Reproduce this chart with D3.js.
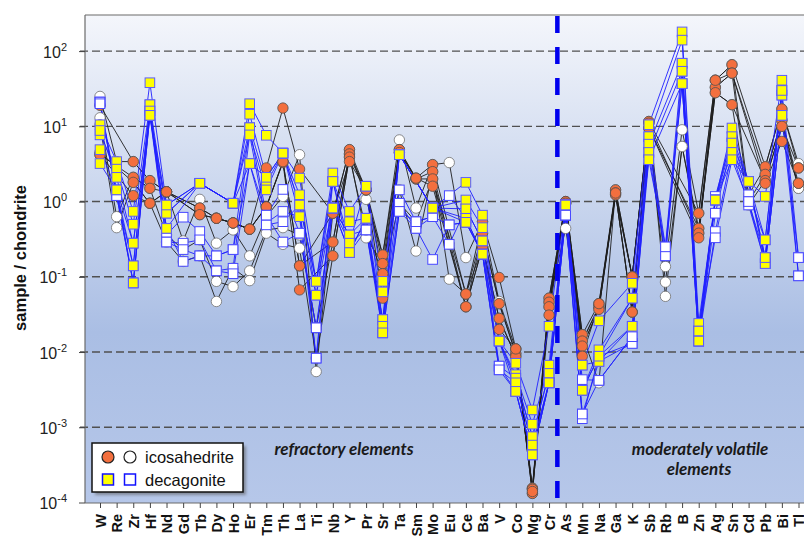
<!DOCTYPE html>
<html>
<head>
<meta charset="utf-8">
<script src="https://cdn.jsdelivr.net/npm/d3@7"></script>
<style>
  body { margin: 0; background: #fff; }
  svg { font-family: Arial, "Liberation Sans", sans-serif; display: block; }
</style>
</head>
<body>
<div id="chart"></div>
<script>
// element order along the x axis
const elements = ["W","Re","Zr","Hf","Nd","Gd","Tb","Dy","Ho","Er","Tm","Th","La","Ti","Nb","Y","Pr","Sr","Ta","Sm",
  "Mo","Eu","Ce","Ba","V","Co","Mg","Cr","As","Mn","Na","Ga","K","Sb","Rb","B","Zn","Ag","Sn","Cd","Pb","Bi","Tl"];

const yTicks = [1e-4, 1e-3, 1e-2, 1e-1, 1, 10, 100];

// icosahedrite, orange symbols (sample / chondrite)
const icoOrange1 = [19,null,3.4,1.9,1.35,null,0.82,0.6,0.52,0.43,2.8,17.5,2.7,null,0.7,4.9,1.43,0.195,4.9,2.05,
  3.1,null,0.059,0.54,0.098,0.011,0.000155,0.052,1.0,0.017,0.044,1.43,0.1,11.6,null,null,0.7,41,66,null,2.9,17,2.8];
const icoOrange2 = [4.2,null,2.1,1.5,1.35,null,0.67,0.6,0.52,0.43,0.85,3.4,0.14,null,0.29,4.3,1.43,0.15,4.5,2.0,
  2.5,null,0.04,0.38,0.044,0.0095,0.000132,0.046,0.95,0.014,0.04,1.3,0.034,9.5,null,null,0.44,33,51,null,2.3,12,1.75];
const icoOrange3 = [4.5,null,1.8,0.95,1.35,null,0.82,0.6,0.52,0.43,0.85,3.3,0.067,null,0.19,3.9,1.43,0.11,4.9,2.0,
  2.0,null,0.059,0.25,0.028,0.0087,0.00015,0.04,1.0,0.012,0.037,1.23,0.1,11,null,null,0.38,28,19.4,null,1.9,10,2.8];
const icoOrange4 = [4.2,null,1.2,0.95,1.35,null,0.67,0.6,0.52,0.43,0.85,3.4,0.14,null,0.7,3.4,1.43,0.052,4.5,2.05,
  1.6,null,0.04,0.25,0.02,0.011,0.00014,0.031,0.95,0.0088,0.044,1.3,0.034,9.5,null,null,0.33,41,51,null,1.75,6.3,1.75];

// icosahedrite, white symbols
const icoWhite1 = [25,3.4,3.4,1.9,1.35,0.3,1.07,0.28,0.42,0.19,0.63,1.17,4.2,0.0055,0.7,4.9,1.07,0.195,6.6,0.82,
  3.1,3.3,0.18,0.54,0.047,0.011,0.000155,0.052,1.0,0.017,0.0039,1.43,0.1,11.6,0.137,9,0.7,41,66,1.23,2.9,17,3.2];
const icoWhite2 = [13,0.63,2.1,1.5,0.36,0.23,0.31,0.087,0.074,0.12,0.42,0.45,0.36,0.021,0.29,4.3,0.33,0.15,1.43,0.22,
  2.5,0.093,0.059,0.38,0.044,0.0095,0.000132,0.046,0.44,0.014,0.04,1.3,0.034,9.5,0.085,5.4,0.44,33,51,1.0,2.3,12,1.5];
const icoWhite3 = [10.5,0.45,1.8,0.95,0.29,0.16,0.19,0.047,0.13,0.089,0.38,0.27,0.24,0.0083,0.19,3.9,0.42,0.11,0.95,0.54,
  2.0,0.27,0.04,0.25,0.028,0.0087,0.00015,0.04,0.95,0.012,0.037,1.23,0.1,11,0.055,5.4,0.38,28,19.4,0.9,1.9,10,1.5];

// decagonite, yellow symbols
const decYellow1 = [10.5,3.4,0.74,38,0.9,null,1.75,null,0.95,20,7.6,4.4,2.05,0.087,2.4,0.74,1.6,0.087,4.2,null,
  0.82,null,1.8,0.66,0.014,0.0071,0.0017,0.022,0.9,0.0067,0.026,null,0.082,10.5,null,180,0.024,1.05,9.5,1.85,1.17,41,null];
const decYellow2 = [7.7,2.7,0.5,19.4,0.7,null,1.75,null,0.95,14.5,2.1,4.4,1.23,0.057,1.85,0.54,0.6,0.063,4.2,null,
  0.82,null,1.05,0.45,0.014,0.005,0.0011,0.0067,0.9,0.0031,0.0107,null,0.052,7.3,null,140,0.019,1.05,7.3,1.85,0.31,30,null];
const decYellow3 = [8.8,2.1,0.28,16,0.44,null,1.75,null,0.95,9.6,1.75,4.4,0.9,0.087,0.82,0.36,0.6,0.027,4.2,null,
  0.82,null,0.8,0.3,0.014,0.0045,0.00075,0.0052,0.9,0.0031,0.0088,null,0.022,5.8,null,69,0.014,1.05,6,1.85,0.18,26,null];
const decYellow4 = [4.9,1.43,0.14,14,0.7,null,1.75,null,0.95,7.7,1.43,4.4,0.63,0.057,0.82,0.28,1.6,0.022,4.2,null,
  0.82,null,0.6,0.2,0.014,0.0039,0.00058,0.0039,0.9,0.0067,0.0075,null,0.022,4.5,null,54,0.019,1.05,4.5,1.85,0.15,14,null];
const decYellow5 = [3.2,1.43,0.083,14,0.9,null,1.75,null,0.95,3.2,2.1,4.4,0.9,0.087,1.85,0.21,0.6,0.018,4.2,null,
  0.82,null,0.53,0.2,0.014,0.003,0.00043,0.0039,0.9,0.0031,0.0088,null,0.052,3.6,null,37,0.014,1.05,3.6,1.85,0.18,30,null];

// decagonite, white symbols
const decWhite1 = [21,1.2,0.14,19.4,0.36,0.62,0.4,0.19,0.23,9.6,0.66,1.45,0.38,0.021,0.82,0.36,0.42,0.027,1.43,0.54,
  0.63,1.2,0.6,0.2,0.0065,0.0045,0.00075,0.0052,0.66,0.0043,0.0042,null,0.016,7.3,0.25,69,0.019,1.17,7.3,1.23,0.31,30,0.18];
const decWhite2 = [21,1.2,0.083,16,0.29,0.28,0.31,0.12,0.13,7.7,0.52,0.74,0.63,0.0083,1.85,0.28,0.42,0.022,0.95,0.44,
  0.17,0.49,0.53,0.2,0.0058,0.0039,0.00058,0.0039,0.66,0.0015,0.0075,null,0.013,5.8,0.19,54,0.014,0.7,6,1.0,0.18,26,0.103];
const decWhite3 = [21,1.43,0.28,14,0.44,0.16,0.19,0.12,0.11,3.2,0.49,0.54,0.9,0.0083,0.82,0.21,0.6,0.018,0.74,0.44,
  0.63,0.27,0.8,0.3,0.0065,0.003,0.00043,0.0039,0.66,0.0013,0.0088,null,0.013,4.5,0.19,37,0.014,0.4,4.5,0.9,0.15,14,0.103];
const decWhite4 = [20,1.2,0.083,14,0.29,0.23,0.19,0.19,0.23,3.2,0.66,0.29,0.38,0.021,0.82,0.21,0.42,0.018,0.74,0.54,
  0.63,0.49,0.53,0.2,0.0058,0.003,0.00043,0.0039,0.66,0.0015,0.0042,null,0.016,3.6,0.25,37,0.019,0.33,3.6,1.0,0.15,14,0.18];

const icoSeries = [
  {vals: icoWhite1, fill: "#ffffff"}, {vals: icoWhite2, fill: "#ffffff"}, {vals: icoWhite3, fill: "#ffffff"},
  {vals: icoOrange1, fill: "#f36f3e"}, {vals: icoOrange2, fill: "#f36f3e"},
  {vals: icoOrange3, fill: "#f36f3e"}, {vals: icoOrange4, fill: "#f36f3e"}
];
const decSeries = [
  {vals: decWhite1, fill: "#ffffff"}, {vals: decWhite2, fill: "#ffffff"},
  {vals: decWhite3, fill: "#ffffff"}, {vals: decWhite4, fill: "#ffffff"},
  {vals: decYellow1, fill: "#ffff00"}, {vals: decYellow2, fill: "#ffff00"}, {vals: decYellow3, fill: "#ffff00"},
  {vals: decYellow4, fill: "#ffff00"}, {vals: decYellow5, fill: "#ffff00"}
];

const W = 804, H = 536;
const plot = {left: 85, top: 15, right: 822, bottom: 503};

const svg = d3.select("#chart").append("svg").attr("width", W).attr("height", H);
const defs = svg.append("defs");

const grad = defs.append("linearGradient").attr("id", "bg")
  .attr("x1", 0).attr("y1", 0).attr("x2", 0).attr("y2", 1);
grad.append("stop").attr("offset", "0%").attr("stop-color", "#f4f6fb");
grad.append("stop").attr("offset", "65%").attr("stop-color", "#aabee4");
grad.append("stop").attr("offset", "100%").attr("stop-color", "#b6c7e9");

const blur = defs.append("filter").attr("id", "shadow").attr("x", "-10%").attr("y", "-10%")
  .attr("width", "130%").attr("height", "140%");
blur.append("feGaussianBlur").attr("stdDeviation", 1.5);

const x = d3.scalePoint().domain(elements).range([100, 798.5]);
const y = d3.scaleLog().domain([1e-4, Math.pow(10, 2.48)]).range([502.5, 15]);

svg.append("rect")
  .attr("x", plot.left).attr("y", plot.top)
  .attr("width", plot.right - plot.left).attr("height", plot.bottom - plot.top)
  .attr("fill", "url(#bg)");

// dashed grid lines at each decade
svg.append("g").selectAll("line")
  .data(yTicks.slice(1))
  .join("line")
  .attr("x1", 80).attr("x2", W)
  .attr("y1", d => y(d)).attr("y2", d => y(d))
  .attr("stroke", "#505050").attr("stroke-width", 1.4)
  .attr("stroke-dasharray", "8,4");

// frame
svg.append("line").attr("x1", plot.left).attr("x2", W).attr("y1", plot.top).attr("y2", plot.top)
  .attr("stroke", "#6b6b6b").attr("stroke-width", 1.2);
svg.append("line").attr("x1", plot.left).attr("x2", plot.left).attr("y1", plot.top).attr("y2", plot.bottom)
  .attr("stroke", "#6b6b6b").attr("stroke-width", 1.2);
svg.append("line").attr("x1", plot.left).attr("x2", W).attr("y1", plot.bottom).attr("y2", plot.bottom)
  .attr("stroke", "#6b6b6b").attr("stroke-width", 1.2);

// y axis
const yAxis = svg.append("g")
  .attr("transform", `translate(${plot.left},0)`)
  .call(d3.axisLeft(y).tickValues(yTicks).tickSize(6).tickFormat(""));
yAxis.select(".domain").remove();
yAxis.selectAll(".tick line").attr("stroke", "#444");
yAxis.selectAll(".tick").each(function(d) {
  const t = d3.select(this).append("text")
    .attr("x", -18).attr("y", 6)
    .attr("text-anchor", "end")
    .attr("fill", "#222")
    .style("font-size", "16px");
  t.append("tspan").text("10");
  t.append("tspan").attr("dy", -7).style("font-size", "11px").text(Math.round(Math.log10(d)));
});

svg.append("text")
  .attr("transform", "translate(26,258) rotate(-90)")
  .attr("text-anchor", "middle")
  .style("font-size", "16.5px").style("font-weight", "bold")
  .attr("fill", "#111")
  .text("sample / chondrite");

// x axis
const xAxis = svg.append("g")
  .attr("transform", `translate(0,${plot.bottom})`)
  .call(d3.axisBottom(x).tickSize(5).tickPadding(0));
xAxis.select(".domain").remove();
xAxis.selectAll(".tick line").attr("stroke", "#444");
xAxis.selectAll(".tick text")
  .attr("transform", "rotate(-90)")
  .attr("x", -11).attr("y", 0).attr("dy", "0.36em")
  .attr("text-anchor", "end")
  .attr("fill", "#111")
  .style("font-size", "14.5px").style("font-weight", "bold")
  .style("font-family", "Arial, 'Liberation Sans', sans-serif");

// series lines
const pts = vals => vals.map((v, i) => ({el: elements[i], v: v})).filter(d => d.v != null);
const line = d3.line().x(d => x(d.el)).y(d => y(d.v));

svg.append("g").selectAll("path")
  .data(icoSeries)
  .join("path")
  .attr("d", d => line(pts(d.vals)))
  .attr("fill", "none").attr("stroke", "#1e1e1e").attr("stroke-width", 0.9);

svg.append("g").selectAll("path")
  .data(decSeries)
  .join("path")
  .attr("d", d => line(pts(d.vals)))
  .attr("fill", "none").attr("stroke", "#2020ff").attr("stroke-width", 0.9);

// boundary between refractory and moderately volatile elements
const xSplit = (x("Cr") + x("As")) / 2;
svg.append("line")
  .attr("x1", xSplit).attr("x2", xSplit)
  .attr("y1", plot.top + 1).attr("y2", plot.bottom)
  .attr("stroke", "#0000ee").attr("stroke-width", 4.5)
  .attr("stroke-dasharray", "17,14");

// markers
icoSeries.forEach(s => {
  svg.append("g").selectAll("circle")
    .data(pts(s.vals))
    .join("circle")
    .attr("cx", d => x(d.el)).attr("cy", d => y(d.v)).attr("r", 5.2)
    .attr("fill", s.fill)
    .attr("stroke", s.fill === "#ffffff" ? "#707070" : "#505050")
    .attr("stroke-width", 0.8);
});

decSeries.forEach(s => {
  svg.append("g").selectAll("rect")
    .data(pts(s.vals))
    .join("rect")
    .attr("x", d => x(d.el) - 4.8).attr("y", d => y(d.v) - 4.8)
    .attr("width", 9.6).attr("height", 9.6)
    .attr("fill", s.fill)
    .attr("stroke", s.fill === "#ffffff" ? "#4848ff" : "#5c5cff")
    .attr("stroke-width", 1);
});

// region labels
const labelFont = "Lato, 'Open Sans', Arial, sans-serif";
svg.append("text")
  .attr("x", 344).attr("y", 455)
  .attr("text-anchor", "middle")
  .style("font-family", labelFont)
  .style("font-size", "17px").style("font-weight", "bold").style("font-style", "italic")
  .attr("fill", "#1a1a1a")
  .text("refractory elements");

const volText = svg.append("text")
  .attr("text-anchor", "middle")
  .style("font-family", labelFont)
  .style("font-size", "17px").style("font-weight", "bold").style("font-style", "italic")
  .attr("fill", "#1a1a1a");
volText.append("tspan").attr("x", 700).attr("y", 455).text("moderately volatile");
volText.append("tspan").attr("x", 699).attr("y", 475).text("elements");

// legend
const lg = svg.append("g").attr("transform", "translate(92,443)");
lg.append("rect").attr("x", 3).attr("y", 3).attr("width", 151).attr("height", 49)
  .attr("fill", "#555").attr("opacity", 0.55).attr("filter", "url(#shadow)");
lg.append("rect").attr("width", 151).attr("height", 49)
  .attr("fill", "#fff").attr("stroke", "#111").attr("stroke-width", 1.5);
lg.append("circle").attr("cx", 16).attr("cy", 14).attr("r", 6)
  .attr("fill", "#f36f3e").attr("stroke", "#222").attr("stroke-width", 1.2);
lg.append("circle").attr("cx", 38).attr("cy", 14).attr("r", 6)
  .attr("fill", "#fff").attr("stroke", "#222").attr("stroke-width", 1.2);
lg.append("rect").attr("x", 10.5).attr("y", 31).attr("width", 11).attr("height", 11)
  .attr("fill", "#ffff00").attr("stroke", "#1010ff").attr("stroke-width", 1.5);
lg.append("rect").attr("x", 32.5).attr("y", 31).attr("width", 11).attr("height", 11)
  .attr("fill", "#fff").attr("stroke", "#1010ff").attr("stroke-width", 1.5);
lg.append("text").attr("x", 53).attr("y", 20).style("font-size", "16.5px").attr("fill", "#111").text("icosahedrite");
lg.append("text").attr("x", 53).attr("y", 43).style("font-size", "16.5px").attr("fill", "#111").text("decagonite");
</script>
</body>
</html>
